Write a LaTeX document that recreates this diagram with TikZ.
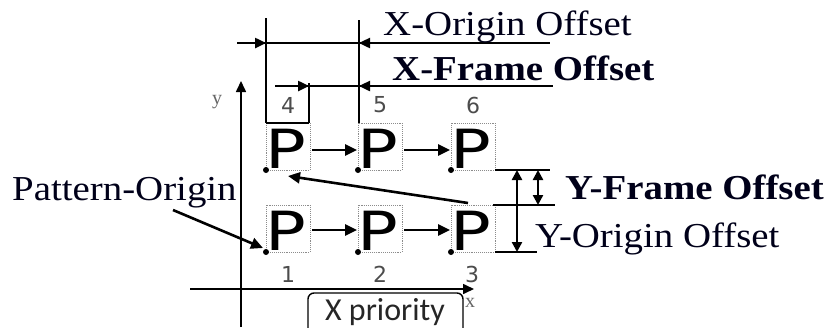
\documentclass[tikz,border=0pt]{standalone}
\usepackage{fontspec}
\setmainfont{Liberation Serif}
\newfontfamily\psans{DejaVu Sans}
\newfontfamily\dsans{DejaVu Sans}
\newfontfamily\carl{Carlito}
\usetikzlibrary{arrows.meta}
\begin{document}
\begin{tikzpicture}[x=1pt,y=-1pt,
  lbl/.style={font=\fontsize{35}{35}\selectfont, inner sep=0pt, anchor=base west, xscale=1.11, text=black!90!blue},
  pglyph/.style={font=\psans\fontsize{54}{54}\selectfont, inner sep=0pt, anchor=base west, xscale=1.25},
  num/.style={font=\dsans\fontsize{22}{22}\selectfont, inner sep=0pt, text=black!70},
  pbox/.style={draw=black!45, densely dotted, line width=0.9pt},
  dimln/.style={line width=2.4pt},
  arr/.style={line width=2.6pt, -{Triangle[length=12pt,width=11pt]}},
  darr/.style={line width=2.4pt, {Triangle[length=10pt,width=10pt]}-{Triangle[length=10pt,width=10pt]}},
  harr/.style={line width=2.4pt, -{Triangle[length=11pt,width=10pt]}}
]
\useasboundingbox (0,0) rectangle (834,327);
% axes
\coordinate (ya0) at (241,327);
\coordinate (ya1) at (241,81);
\coordinate (xa0) at (190,289);
\coordinate (xa1) at (474,289);
\draw[line width=1.6pt, -{Triangle[length=11pt,width=10pt]}] (ya0) -- (ya1);
\draw[line width=1.6pt, -{Triangle[length=11pt,width=10pt]}] (xa0) -- (xa1);
\node[font=\fontsize{20}{20}\selectfont, text=black!60, inner sep=0pt] (ylab) at (217,102) {y};
\node[font=\fontsize{20}{20}\selectfont, text=black!60, inner sep=0pt] (xlab) at (470,303) {x};

% P boxes
\foreach \n/\cx/\ry in {b1/266/205, b2/358/205, b3/451/205, t4/266/123, t5/358/123, t6/451/123} {
  \draw[pbox] (\cx,\ry) rectangle ++(44,47);
  \coordinate (\n-sw) at (\cx,\ry+47);
  \coordinate (\n-se) at (\cx+44,\ry+47);
  \coordinate (\n-nw) at (\cx,\ry);
  \coordinate (\n-ne) at (\cx+44,\ry);
  \node[pglyph] (\n) at (\cx-1,\ry+45) {P};
  \fill (\cx,\ry+47) circle (3);
}
% numbers
\node[num] (n1) at (288,274) {1};
\node[num] (n2) at (380,274) {2};
\node[num] (n3) at (472,274) {3};
\node[num] (n4) at (288,105) {4};
\node[num] (n5) at (380,105) {5};
\node[num] (n6) at (473,105) {6};

% row arrows
\coordinate (r1a) at (312,230); \coordinate (r1b) at (357,230);
\coordinate (r2a) at (404,230); \coordinate (r2b) at (450,230);
\coordinate (r3a) at (312,150); \coordinate (r3b) at (357,150);
\coordinate (r4a) at (404,150); \coordinate (r4b) at (450,150);
\draw[arr] (r1a) -- (r1b);
\draw[arr] (r2a) -- (r2b);
\draw[arr] (r3a) -- (r3b);
\draw[arr] (r4a) -- (r4b);
% diagonal return arrow
\coordinate (dg0) at (468,203);
\coordinate (dg1) at (288,176);
\draw[arr] (dg0) -- (dg1);

% Pattern-Origin
\node[lbl] (po) at (12,200) {Pattern-Origin};
\coordinate (po0) at (173,210);
\coordinate (po1) at (263,248);
\draw[arr] (po0) -- (po1);

% X dimension extension lines
\draw[dimln] (266,18) -- (t4-nw);
\draw[dimln] (309,83) -- (309,123);
\draw[dimln] (359,20) -- (359,123);
\draw[dimln] (t4-nw) -- (309,123);
% X-Origin Offset
\draw[dimln] (237,43) -- (550,43);
\draw[harr] (237,43) -- (266,43);
\draw[harr] (390,43) -- (359,43);
\node[lbl] (xoo) at (383,35) {X-Origin Offset};
% X-Frame Offset
\draw[dimln] (275,86) -- (553,86);
\draw[harr] (275,86) -- (309,86);
\draw[harr] (390,86) -- (359,86);
\node[lbl, font=\bfseries\fontsize{35}{35}\selectfont] (xfo) at (392,80) {X-Frame Offset};

% Y dimension
\draw[dimln] (t6-se) -- (550,170);
\draw[dimln] (493,205) -- (555,205);
\draw[dimln] (b3-se) -- (537,252);
\draw[darr] (517,170) -- (517,252);
\draw[darr] (538,170) -- (538,205);
\node[lbl, font=\bfseries\fontsize{35}{35}\selectfont] (yfo) at (565,199) {Y-Frame Offset};
\node[lbl] (yoo) at (535,247) {Y-Origin Offset};

% X priority
\draw[line width=1.4pt, rounded corners=6pt] (308,340) -- (308,293) -- (463,293) -- (463,340);
\node[font=\carl\fontsize{32}{32}\selectfont, inner sep=0pt, anchor=base, text=black!85] (xp) at (385,320) {X priority};
\end{tikzpicture}
\end{document}
